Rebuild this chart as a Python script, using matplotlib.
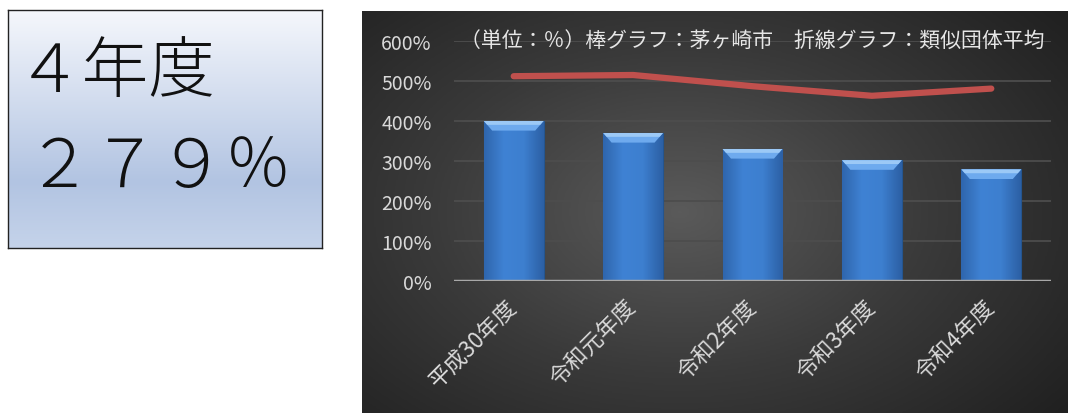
import numpy as np
import matplotlib
matplotlib.use("Agg")
import matplotlib.pyplot as plt
from matplotlib.patches import Polygon
from matplotlib.colors import LinearSegmentedColormap

plt.rcParams['font.family'] = ['Noto Sans CJK JP', 'DejaVu Sans']

# Data
years = ['平成30年度', '令和元年度', '令和2年度', '令和3年度', '令和4年度']
city_ratio = [400, 370, 330, 302, 279]        # 茅ヶ崎市 (bars)
group_avg = [512, 515, 487, 463, 481]         # 類似団体平均 (line)
yticks = [0, 100, 200, 300, 400, 500, 600]
title_text = '（単位：％）棒グラフ：茅ヶ崎市　折線グラフ：類似団体平均'
box_year = '４年度'
box_value = '２７９％'

W, H = 1068, 414
fig = plt.figure(figsize=(W / 100, H / 100), dpi=100)
fig.patch.set_facecolor('white')

# Summary box on the left
box = fig.add_axes([8 / W, (H - 249) / H, 314 / W, 238 / H])
box_cmap = LinearSegmentedColormap.from_list(
    'box', [(0, '#f5f7fc'), (0.72, '#b2c4e2'), (1.0, '#c5d3ea')])
box.imshow(np.linspace(0, 1, 256).reshape(-1, 1), cmap=box_cmap,
           aspect='auto', extent=[0, 1, 0, 1], origin='upper')
box.set_xlim(0, 1)
box.set_ylim(0, 1)
box.set_xticks([])
box.set_yticks([])
for s in box.spines.values():
    s.set_color('#222222')
    s.set_linewidth(1.0)
box.text(0.025, 0.74, box_year, fontsize=48, color='#111111',
         fontweight='light', va='center', ha='left')
box.text(0.058, 0.34, box_value, fontsize=48, color='#111111',
         fontweight='light', va='center', ha='left')

# Dark chart panel with a soft radial highlight
panel = fig.add_axes([362 / W, 0, (W - 362) / W, (H - 12) / H])
yy, xx = np.mgrid[0:1:300j, 0:1:500j]
r = np.sqrt(((xx - 0.45) / 0.75) ** 2 + ((yy - 0.5) / 0.85) ** 2)
panel_cmap = LinearSegmentedColormap.from_list('panel', ['#5a5a5a', '#3a3a3a', '#202020'])
panel.imshow(np.clip(r, 0, 1), cmap=panel_cmap, aspect='auto',
             extent=[0, 1, 0, 1], origin='lower')
panel.set_axis_off()

# Main chart
ax = fig.add_axes([454 / W, (H - 282) / H, 597 / W, 240 / H])
ax.patch.set_alpha(0)
x = np.arange(len(years))
bar_w = 0.5

bars = ax.bar(x, city_ratio, width=bar_w, color='#3b7bcb', zorder=3,
              edgecolor='#24558f', linewidth=0.8)
# horizontal shading across each bar
shade = LinearSegmentedColormap.from_list('bar', ['#2f66ad', '#3f82d4', '#3d7fcf', '#2c60a5'])
for b in bars:
    x0, w, h = b.get_x(), b.get_width(), b.get_height()
    im = ax.imshow(np.linspace(0, 1, 64).reshape(1, -1), cmap=shade, aspect='auto',
                   extent=[x0, x0 + w, 0, h], zorder=3.1, interpolation='bilinear')
    im.set_clip_path(b)
    # bevelled top edge
    bev_h = 24
    inset = 0.07
    top = Polygon([[x0, h], [x0 + w, h], [x0 + w - inset, h - bev_h], [x0 + inset, h - bev_h]],
                  closed=True, facecolor='#6eaaee', edgecolor='none', zorder=3.2)
    ax.add_patch(top)
    hl = Polygon([[x0, h], [x0 + w, h], [x0 + w - inset * 0.4, h - bev_h * 0.4],
                  [x0 + inset * 0.4, h - bev_h * 0.4]],
                 closed=True, facecolor='#9cc9f6', edgecolor='none', zorder=3.3)
    ax.add_patch(hl)

ax.plot(x, group_avg, color='#c0504d', linewidth=4.5, solid_capstyle='round',
        solid_joinstyle='round', zorder=4)

ax.set_xlim(-0.5, len(years) - 0.5)
ax.set_ylim(0, 600)
ax.set_yticks(yticks)
ax.set_yticklabels([f'{v}%' for v in yticks])
ax.yaxis.grid(True, color='#4d4d4d', linewidth=1.3, zorder=1)
ax.axhline(0, color='#a8a8a8', linewidth=2.5, zorder=5)
ax.set_xticks(x)
ax.set_xticklabels(years, rotation=45, ha='right', va='center', rotation_mode='anchor')
ax.tick_params(axis='both', length=0, colors='#d9d9d9')
ax.tick_params(axis='y', pad=16, labelsize=14)
ax.tick_params(axis='x', pad=16, labelsize=16)
for s in ax.spines.values():
    s.set_visible(False)

ax.text(0.5, 1.0, title_text, transform=ax.transAxes, ha='center', va='center',
        fontsize=15, color='#e6e6e6', zorder=6)

fig.savefig('out.png', dpi=100)
